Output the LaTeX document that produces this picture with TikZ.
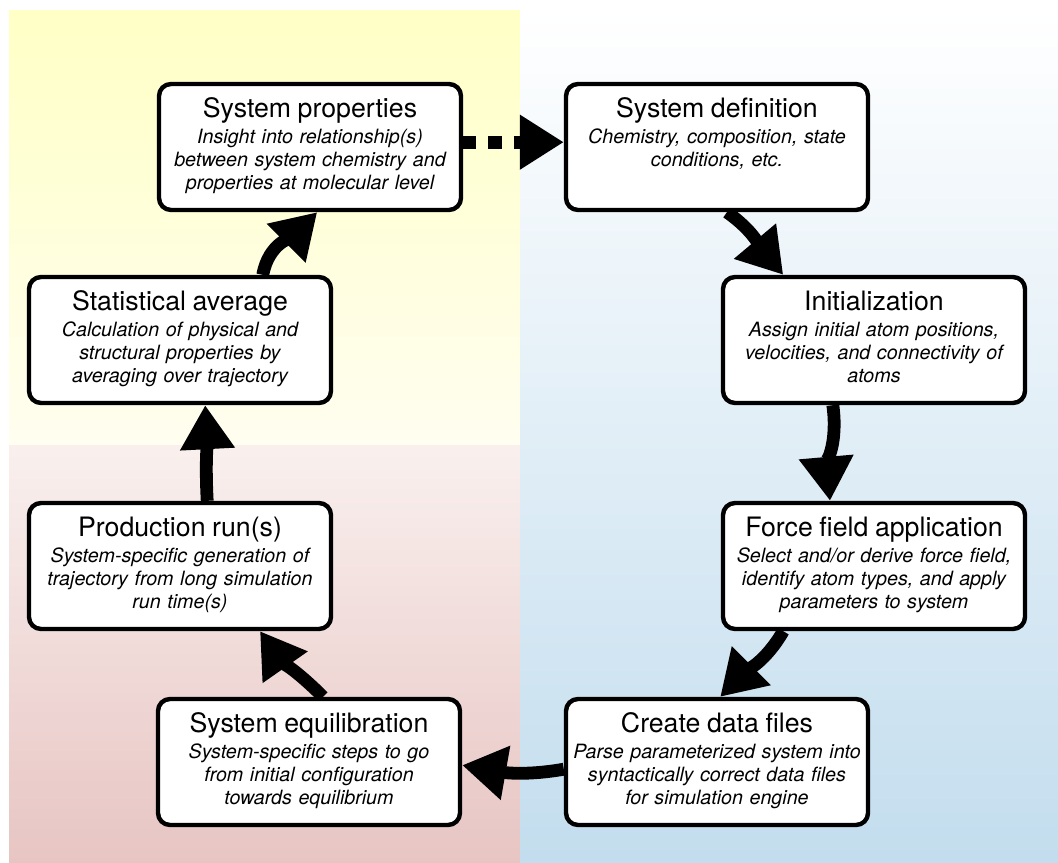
\documentclass[tikz,border=0pt]{standalone}
\usepackage{fontspec}
\setmainfont{TeX Gyre Heros}
\usepackage{tikz}
\usetikzlibrary{calc}
\usetikzlibrary{arrows.meta}
\definecolor{ytop}{RGB}{255,255,198}
\definecolor{ybot}{RGB}{255,254,240}
\definecolor{ptop}{RGB}{249,240,238}
\definecolor{pbot}{RGB}{231,197,195}
\definecolor{bmid}{RGB}{213,231,243}
\definecolor{bbot}{RGB}{195,221,238}
\pgfdeclarelayer{panels}
\pgfdeclarelayer{links}
\pgfsetlayers{panels,links,main}
\tikzset{mbox/.style={draw,fill=white,line width=0.11cm,rounded corners=0.3cm,inner sep=0pt,
  align=center,text width=7.55cm,text height=23.5pt,text depth=66.1pt,
  font=\fontsize{14}{16.6}\selectfont\itshape}}
\tikzset{marrow/.style={line width=0.32cm,-{Triangle[length=1.1cm,width=1.3cm]}}}
\tikzset{mdash/.style={marrow,dash pattern=on 0.33cm off 0.3cm}}
\newcommand{\mtitle}[1]{{\fontsize{19}{22}\selectfont\upshape #1}\\[1.9pt]}

\begin{document}
\begin{tikzpicture}
\useasboundingbox (0,0) rectangle (26.45,21.55);
\begin{pgfonlayer}{panels}
\shade[top color=ytop,middle color=ytop,bottom color=ybot] (0.225,10.425) rectangle (13,21.275);
\shade[top color=ptop,bottom color=pbot] (0.225,0) rectangle (13,10.425);
\shade[top color=white,middle color=bmid,bottom color=bbot] (13,0) rectangle (26.45,21.275);
\end{pgfonlayer}

\node[mbox] (sysprop) at (7.75,17.875) {\mtitle{System properties}
  Insight into relationship(s)\\ between system chemistry and\\ properties at molecular level};
\node[mbox] (sysdef) at (17.925,17.875) {\mtitle{System definition}
  Chemistry, composition, state\\ conditions, etc.};
\node[mbox] (init) at (21.85,13.05) {\mtitle{Initialization}
  Assign initial atom positions,\\ velocities, and connectivity of\\ atoms};
\node[mbox] (force) at (21.85,7.4) {\mtitle{Force field application}
  Select and/or derive force field,\\ identify atom types, and apply\\ parameters to system};
\node[mbox] (data) at (17.925,2.5) {\mtitle{Create data files}
  Parse parameterized system into\\ syntactically correct data files\\ for simulation engine};
\node[mbox] (equil) at (7.725,2.5) {\mtitle{System equilibration}
  System-specific steps to go\\ from initial configuration\\ towards equilibrium};
\node[mbox] (prod) at (4.5,7.4) {\mtitle{Production run(s)}
  System-specific generation of\\ trajectory from long simulation\\ run time(s)};
\node[mbox] (stat) at (4.5,13.05) {\mtitle{Statistical average}
  Calculation of physical and\\ structural properties by\\ averaging over trajectory};

\begin{pgfonlayer}{links}
\draw[mdash] ($(sysprop.east)+(0,0.12)$) -- ($(sysdef.west)+(0,0.12)$);
\draw[marrow] ($(sysdef.south)+(0.25,0)$) to[out=-35,in=130] ($(init.north)+(-2.27,0)$);
\draw[marrow] ($(init.south)+(-1.03,0)$) to[out=-82,in=95] ($(force.north)+(-1.1,0)$);
\draw[marrow] ($(force.south)+(-2.27,0)$) to[out=-120,in=45] ($(data.north)+(0.08,0)$);
\draw[marrow] ($(data.west)+(0,-0.18)$) to[out=190,in=-10] ($(equil.east)+(0,-0.08)$);
\draw[marrow] ($(equil.north)+(0.35,0)$) to[out=135,in=-55] ($(prod.south)+(2,0)$);
\draw[marrow] ($(prod.north)+(0.68,0)$) to[out=93,in=-87] ($(stat.south)+(0.63,0)$);
\draw[marrow] ($(stat.north)+(2.07,0)$) to[out=80,in=-135] ($(sysprop.south)+(0.18,0)$);
\end{pgfonlayer}
\end{tikzpicture}
\end{document}
